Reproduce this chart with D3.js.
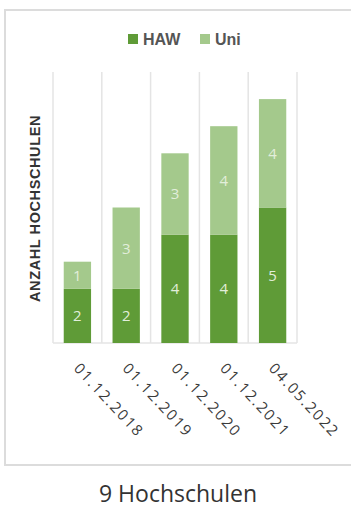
<!DOCTYPE html>
<html>
<head>
<meta charset="utf-8">
<script src="https://cdn.jsdelivr.net/npm/d3@7"></script>
<style>
  html, body { margin: 0; padding: 0; background: #fff; }
  svg { display: block; }
</style>
</head>
<body>
<script>
// Stichtage und Anzahl Hochschulen je Hochschultyp
const dates = ["01.12.2018", "01.12.2019", "01.12.2020", "01.12.2021", "04.05.2022"];
const haw = [2, 2, 4, 4, 5];
const uni = [1, 3, 3, 4, 4];
const seriesNames = ["HAW", "Uni"];
const colors = ["#5f9b37", "#a4c98c"];

const W = 351, H = 508;
const plot = { left: 53, right: 297, top: 72, bottom: 343 };

const svg = d3.select("body").append("svg").attr("width", W).attr("height", H);

// Rahmen
svg.append("rect")
  .attr("x", 5).attr("y", 10).attr("width", 360).attr("height", 455)
  .attr("fill", "#fff").attr("stroke", "#dcdcdc").attr("stroke-width", 2);

const x = d3.scaleBand().domain(dates).range([plot.left, plot.right]).paddingInner(0).paddingOuter(0);
const y = d3.scaleLinear().domain([0, 10]).range([plot.bottom, plot.top]);

// Trennlinien zwischen Kategorien
const sep = dates.map(d => x(d)).concat([x(dates[dates.length - 1]) + x.bandwidth()]);
svg.append("g").selectAll("line").data(sep).join("line")
  .attr("x1", d => d).attr("x2", d => d)
  .attr("y1", plot.top).attr("y2", plot.bottom)
  .attr("stroke", "#e4e4e4").attr("stroke-width", 1.5);
svg.append("line")
  .attr("x1", plot.left).attr("x2", plot.right)
  .attr("y1", plot.bottom).attr("y2", plot.bottom)
  .attr("stroke", "#e4e4e4").attr("stroke-width", 1.5);

// Gestapelte Balken
const table = dates.map((d, i) => ({ date: d, HAW: haw[i], Uni: uni[i] }));
const stacked = d3.stack().keys(seriesNames)(table);
const barW = x.bandwidth() * 0.56;

const layers = svg.append("g").selectAll("g").data(stacked).join("g")
  .attr("fill", (d, i) => colors[i]);
layers.selectAll("rect").data(d => d).join("rect")
  .attr("x", d => x(d.data.date) + (x.bandwidth() - barW) / 2)
  .attr("width", barW)
  .attr("y", d => y(d[1]))
  .attr("height", d => y(d[0]) - y(d[1]));

// Werte in den Segmenten
layers.selectAll("text").data(d => d).join("text")
  .attr("x", d => x(d.data.date) + x.bandwidth() / 2)
  .attr("y", d => (y(d[0]) + y(d[1])) / 2)
  .attr("dy", "0.36em")
  .attr("text-anchor", "middle")
  .attr("font-family", "'Open Sans', 'Noto Sans', sans-serif")
  .attr("font-size", 15)
  .attr("fill", "#e2eedb")
  .text(d => d[1] - d[0]);

// Achsenbeschriftungen (gedreht)
svg.append("g").selectAll("text").data(dates).join("text")
  .attr("transform", d => `translate(${x(d) + x.bandwidth() / 2 - 4.5},${369}) rotate(47)`)
  .attr("text-anchor", "start")
  .attr("font-family", "'Open Sans', 'Noto Sans', sans-serif")
  .attr("font-size", 15)
  .attr("letter-spacing", 1.8)
  .attr("fill", "#3a3a3a")
  .text(d => d);

// Y-Achsentitel
svg.append("text")
  .attr("transform", `translate(40,${(plot.top + plot.bottom) / 2 + 1}) rotate(-90)`)
  .attr("text-anchor", "middle")
  .attr("font-family", "'Liberation Sans', Arial, sans-serif")
  .attr("font-weight", "bold")
  .attr("font-size", 14.5)
  .attr("letter-spacing", 0.6)
  .attr("fill", "#333")
  .text("ANZAHL HOCHSCHULEN");

// Legende
const legendX = [128, 200];
const lg = svg.append("g").selectAll("g").data(seriesNames).join("g")
  .attr("transform", (d, i) => `translate(${legendX[i]},39)`);
lg.append("rect").attr("x", 0).attr("y", -5).attr("width", 10).attr("height", 10)
  .attr("fill", (d, i) => colors[i]);
lg.append("text").attr("x", 15).attr("dy", "0.36em")
  .attr("font-family", "'Liberation Sans', Arial, sans-serif")
  .attr("font-weight", "bold")
  .attr("font-size", 16)
  .attr("fill", "#555")
  .text(d => d);

// Untertitel
svg.append("text")
  .attr("x", 178).attr("y", 502)
  .attr("text-anchor", "middle")
  .attr("font-family", "'Open Sans', 'Noto Sans', sans-serif")
  .attr("font-size", 23)
  .attr("fill", "#333")
  .text("9 Hochschulen");
</script>
</body>
</html>
